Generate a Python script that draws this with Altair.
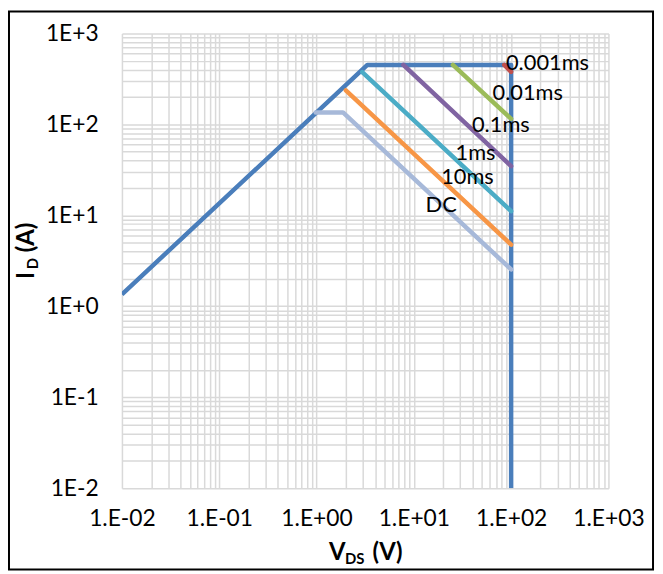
import altair as alt
import pandas as pd

# ---------------- data ----------------
series_names = ["Limit", "DC", "10ms", "1ms", "0.1ms", "0.01ms", "0.001ms"]
series_colors = ["#4A7EBB", "#A7B9D9", "#F79646", "#4BACC6", "#8064A2", "#9BBB59", "#C0504D"]

limit_v = [0.01, 3.33, 100, 100]
limit_i = [1.35, 450, 450, 0.01]
dc_v = [0.98, 1.87, 100]
dc_i = [135, 135, 2.54]
ms10_v = [2.0, 100]
ms10_i = [237, 4.75]
ms1_v = [2.95, 100]
ms1_i = [376, 11.1]
ms01_v = [7.8, 100]
ms01_i = [450, 34.7]
ms001_v = [25.2, 100]
ms001_i = [450, 115]
ms0001_v = [85, 100]
ms0001_i = [450, 378]

label_text = ["0.001ms", "0.01ms", "0.1ms", "1ms", "10ms", "DC"]
label_v = [88.5, 64.4, 39.6, 26.8, 19.1, 13.2]
label_i = [471, 218, 97, 48.5, 26.3, 13.0]

x_tick_values = [0.01, 0.1, 1, 10, 100, 1000]
x_tick_labels = ["1.E-02", "1.E-01", "1.E+00", "1.E+01", "1.E+02", "1.E+03"]
y_tick_values = [0.01, 0.1, 1, 10, 100, 1000]
y_tick_labels = ["1E-2", "1E-1", "1E+0", "1E+1", "1E+2", "1E+3"]

x_title_parts = ["V", "DS", "(V)"]
y_title_parts = ["I", "D", "(A)"]

# ---------------- tables ----------------
series_points = {
    "Limit": (limit_v, limit_i),
    "DC": (dc_v, dc_i),
    "10ms": (ms10_v, ms10_i),
    "1ms": (ms1_v, ms1_i),
    "0.1ms": (ms01_v, ms01_i),
    "0.01ms": (ms001_v, ms001_i),
    "0.001ms": (ms0001_v, ms0001_i),
}
rows = []
for name in series_names:
    vs, cs = series_points[name]
    for k, (v, c) in enumerate(zip(vs, cs)):
        rows.append({"series": name, "order": k, "v": v, "i": c})
df = pd.DataFrame(rows)
labels_df = pd.DataFrame({"text": label_text, "v": label_v, "i": label_i})

grid_values = [round(m * 10.0 ** e, 10) for e in range(-2, 3) for m in range(1, 10)] + [1000.0]


def label_expr(values, labels):
    parts = [f"datum.value == {v} ? '{l}'" for v, l in zip(values, labels)]
    return " : ".join(parts) + " : ''"


FONT = "Lato"
GRID = "#D9D9D9"
TICK_FS = 23

x_scale = alt.Scale(type="log", domain=[0.01, 1000], nice=False)
y_scale = alt.Scale(type="log", domain=[0.01, 1000], nice=False)

x_axis = alt.Axis(values=grid_values, labelExpr=label_expr(x_tick_values, x_tick_labels),
                  grid=True, gridColor=GRID, gridWidth=1.5, ticks=False, tickSize=0,
                  domain=False, labelFont=FONT, labelFontSize=TICK_FS, labelColor="black",
                  labelPadding=31, labelBaseline="middle", labelOverlap=False,
                  labelFlush=False, labelBound=False, title="")
y_axis = alt.Axis(values=grid_values, labelExpr=label_expr(y_tick_values, y_tick_labels),
                  grid=True, gridColor=GRID, gridWidth=1.5, ticks=False, tickSize=0,
                  domain=False, labelFont=FONT, labelFontSize=TICK_FS, labelColor="black",
                  labelPadding=24, labelBaseline="middle", labelOverlap=False,
                  labelFlush=False, labelBound=False, title="")

color = alt.Color("series:N", scale=alt.Scale(domain=series_names, range=series_colors), legend=None)

base_lines = alt.Chart(df)
limit_line = base_lines.transform_filter(alt.datum.series == "Limit").mark_line(
    strokeWidth=4.5, strokeJoin="round", clip=True
).encode(
    x=alt.X("v:Q", scale=x_scale, axis=x_axis),
    y=alt.Y("i:Q", scale=y_scale, axis=y_axis),
    order=alt.Order("order:Q"),
    color=color,
)
other_lines = base_lines.transform_filter(alt.datum.series != "Limit").mark_line(
    strokeWidth=4.5, strokeCap="round", strokeJoin="round", clip=True
).encode(
    x=alt.X("v:Q", scale=x_scale),
    y=alt.Y("i:Q", scale=y_scale),
    order=alt.Order("order:Q"),
    detail="series:N",
    color=color,
)

label_layer = alt.Chart(labels_df).mark_text(
    align="left", baseline="middle", font=FONT, fontSize=22, color="black"
).encode(
    x=alt.X("v:Q", scale=x_scale),
    y=alt.Y("i:Q", scale=y_scale),
    text="text:N",
)

one = pd.DataFrame({"k": [0]})


def txt(s, x, y, size, angle=0):
    return alt.Chart(one).mark_text(
        text=s, align="left", baseline="alphabetic", font=FONT, fontSize=size,
        fontWeight="bold", color="black", angle=angle
    ).encode(x=alt.value(x), y=alt.value(y))


x_title = [
    txt(x_title_parts[0], 209, 531, 24),
    txt(x_title_parts[1], 225, 536, 15),
    txt(x_title_parts[2], 253, 531, 24),
]
y_title = [
    txt(y_title_parts[0], -89, 248, 24, 270),
    txt(y_title_parts[1], -85, 238, 15, 270),
    txt(y_title_parts[2], -89, 221, 24, 270),
]

frame = alt.Chart(one).mark_rect(fill="transparent", stroke="black", strokeWidth=2).encode(
    x=alt.value(-114), x2=alt.value(536), y=alt.value(-22), y2=alt.value(541)
)

chart = alt.layer(
    limit_line, other_lines, label_layer, *x_title, *y_title, frame
).properties(
    width=491, height=459,
    autosize=alt.AutoSizeParams(type="none"),
    padding={"left": 115, "top": 23, "right": 47, "bottom": 84},
    background="white",
).configure_view(strokeWidth=0)

chart.save("out.html", embed_options={"renderer": "svg", "actions": False})
